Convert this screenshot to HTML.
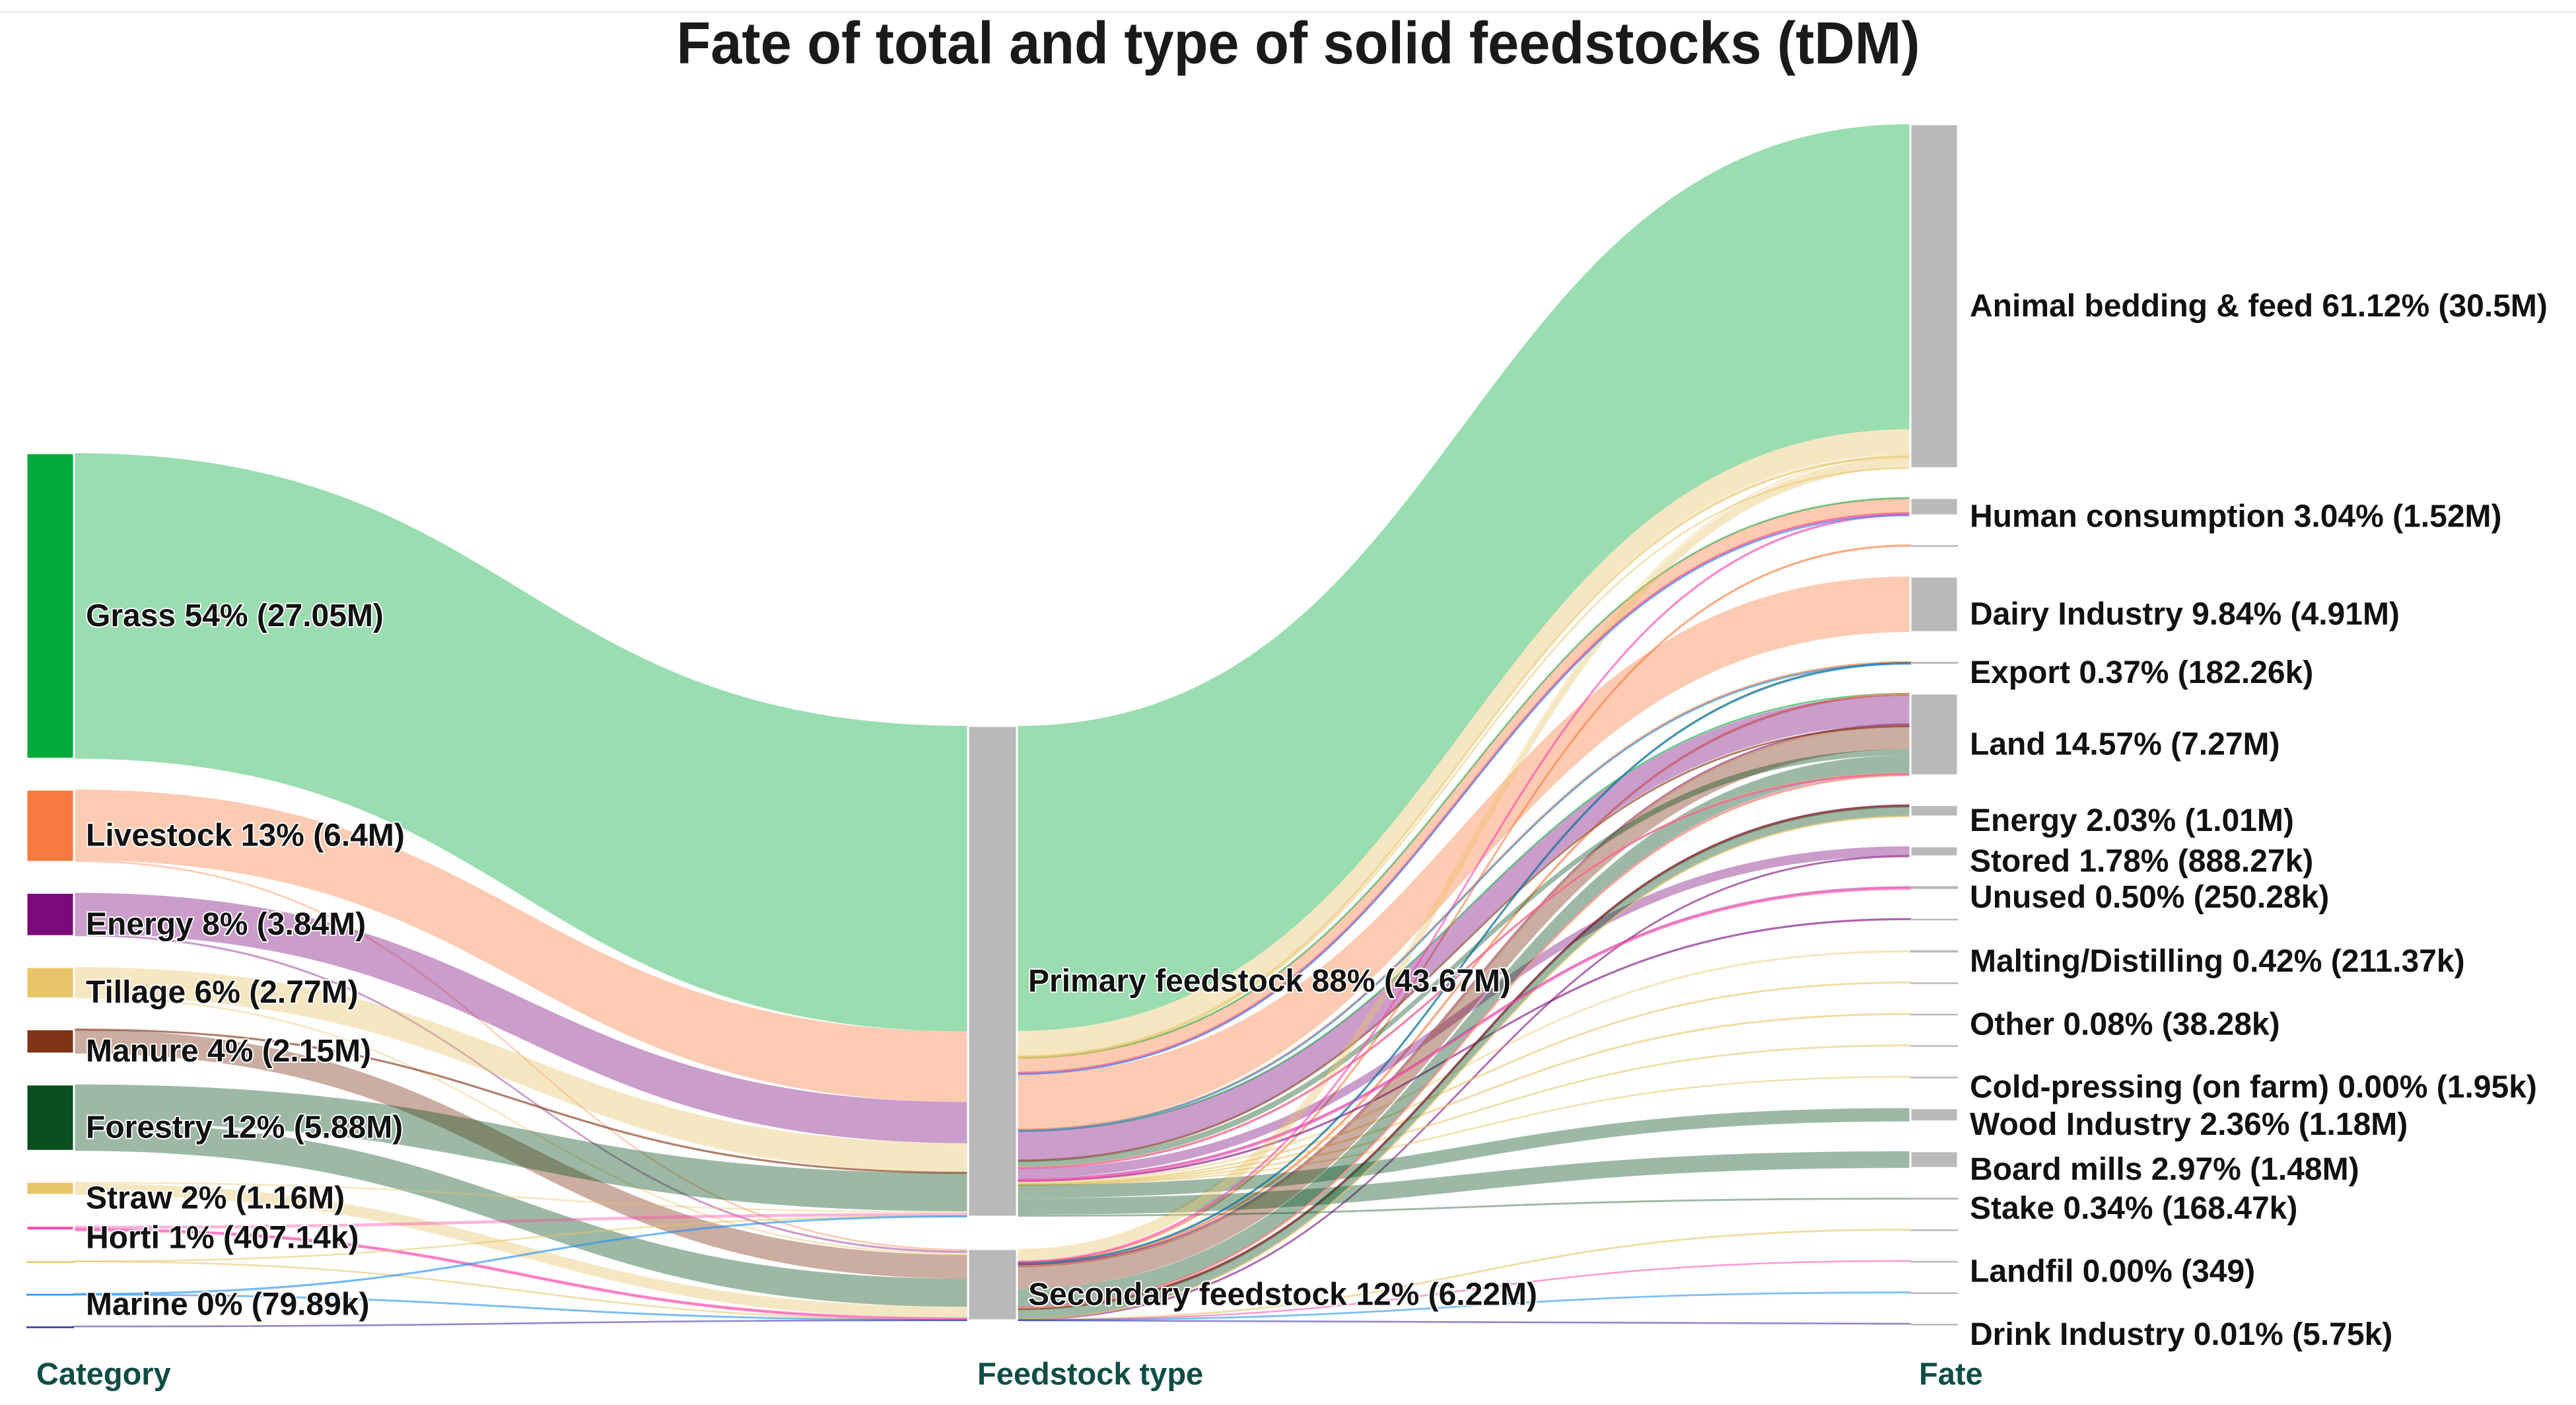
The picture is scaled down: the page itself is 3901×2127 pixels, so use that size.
<!DOCTYPE html>
<html><head><meta charset="utf-8">
<style>
html,body{margin:0;padding:0;background:#fff;}
svg{display:block;}
text{font-family:"Liberation Sans",Arial,sans-serif;}
.lbl{font-weight:bold;font-size:48px;fill:#111;paint-order:stroke;stroke:#fff;stroke-width:4px;stroke-linejoin:round;}
.ax{font-weight:bold;font-size:47px;fill:#0d4d45;}
</style></head>
<body>
<svg id="chart" width="3901" height="2127" viewBox="0 0 3901 2127" xmlns="http://www.w3.org/2000/svg">
<rect x="0" y="0" width="3901" height="2127" fill="#fff"/>
<line x1="0" y1="18" x2="3901" y2="18" stroke="#eeeeee" stroke-width="3"/>
<text x="1966" y="96" text-anchor="middle" textLength="1883" lengthAdjust="spacingAndGlyphs" style="font-family:'Liberation Sans Narrow','Liberation Sans',sans-serif;font-weight:bold;font-size:90px;fill:#1a1a1a">Fate of total and type of solid feedstocks (tDM)</text>
<g id="links"></g>
<g id="nodes"></g>
<g id="labels"></g>
<text class="ax" x="55" y="2096">Category</text>
<text class="ax" x="1480" y="2096">Feedstock type</text>
<text class="ax" x="2906" y="2096">Fate</text>
</svg>
<script>
// ---- data ----
const categories = ['Grass','Livestock','Energy','Tillage','Manure','Forestry','Straw','Horti','Unlabelled A','Marine','Unlabelled B'];
const categoryLabels = ['Grass 54% (27.05M)','Livestock 13% (6.4M)','Energy 8% (3.84M)','Tillage 6% (2.77M)','Manure 4% (2.15M)','Forestry 12% (5.88M)','Straw 2% (1.16M)','Horti 1% (407.14k)','','Marine 0% (79.89k)',''];
const categoryColors = ['#00aa3a','#f97a3e','#7a0a7a','#e8c468','#7f3214','#0a4f1e','#e8c468','#ff44aa','#e8c468','#2090f0','#3030a0'];
const types = ['Primary feedstock','Secondary feedstock'];
const typeLabels = ['Primary feedstock 88% (43.67M)','Secondary feedstock 12% (6.22M)'];
const fates = ['Animal bedding & feed','Human consumption','U1','Dairy Industry','Export','Land','Energy','Stored','Unused','U2','Malting/Distilling','U3','Other','U4','Cold-pressing (on farm)','Wood Industry','Board mills','Stake','U5','Landfil','U6','Drink Industry'];
const fateLabels = ['Animal bedding & feed 61.12% (30.5M)','Human consumption 3.04% (1.52M)','','Dairy Industry 9.84% (4.91M)','Export 0.37% (182.26k)','Land 14.57% (7.27M)','Energy 2.03% (1.01M)','Stored 1.78% (888.27k)','Unused 0.50% (250.28k)','','Malting/Distilling 0.42% (211.37k)','','Other 0.08% (38.28k)','','Cold-pressing (on farm) 0.00% (1.95k)','Wood Industry 2.36% (1.18M)','Board mills 2.97% (1.48M)','Stake 0.34% (168.47k)','','Landfil 0.00% (349)','','Drink Industry 0.01% (5.75k)'];
// flows: category index, type index, fate index, value (M tDM)
const flowCat  = [0,0,0, 1,1,1,1,1, 2,2,2,2,2,2,2, 3,3,3,3,3,3,3,3,3, 4,4,4, 5,5,5,5,5,5,5, 6,6,6,6,6, 7,7,7,7,7,7, 8,8, 9,9,9,9, 10, 0];
const flowType = [0,0,0, 0,0,0,1,1, 0,0,0,0,1,1,1, 0,0,0,0,0,0,0,1,1, 0,1,1, 0,0,0,0,1,1,1, 0,0,1,1,1, 0,0,0,1,1,1, 0,1, 0,0,1,1, 1, 0];
const flowFate = [0,1,5, 1,3,4,5,2, 5,7,8,9,5,7,6, 0,10,11,12,13,14,1,0,5, 5,5,6, 15,16,17,5,5,6,4, 0,5,0,6,18, 1,8,5,1,19,5, 0,5, 4,1,20,4, 21, 0];
const flowVal  = [26.0,0.03,0.02, 1.25,4.91,0.08,0.1,0.06, 2.6,0.85,0.15,0.05,0.12,0.038,0.03, 2.25,0.21,0.03,0.038,0.02,0.002,0.05,0.15,0.02, 0.05,2.0,0.1, 1.18,1.48,0.168,0.55,1.6,0.85,0.05, 0.1,0.05,0.95,0.03,0.03, 0.12,0.1,0.05,0.07,0.0003,0.067, 0.005,0.01, 0.03,0.02,0.02,0.01, 0.006, 1.0];

// ---- layout ----
const K = 17.1, MINH = 2.5;
const colX = [40, 1466, 2893], nodeW = [72, 74, 72];
const colTop = [686, 1099, 188], colGap = [46.8, 49, 45.1];
const NS='http://www.w3.org/2000/svg';
function hOf(v){return Math.max(v*K, MINH);}
function sumBy(arr, idx){return flowVal.reduce((s,v,i)=>s+(arr[i]===idx?v:0),0);}
function layoutCol(n, arr, c){
  const out=[]; let y=colTop[c];
  for(let i=0;i<n;i++){const v=sumBy(arr,i); const h=hOf(v); out.push({y:y,h:h,v:v}); y+=h+colGap[c];}
  return out;
}
const catN = layoutCol(categories.length, flowCat, 0);
const typeN = layoutCol(types.length, flowType, 1);
const fateN = layoutCol(fates.length, flowFate, 2);

const linksG=document.getElementById('links'), nodesG=document.getElementById('nodes'), labelsG=document.getElementById('labels');
function band(x0,y0,w0,x1,y1,w1){
  const xm=(x0+x1)/2;
  return `M${x0},${y0} C${xm},${y0} ${xm},${y1} ${x1},${y1} L${x1},${y1+w1} C${xm},${y1+w1} ${xm},${y0+w0} ${x0},${y0+w0} Z`;
}
function drawLink(x0,y0,w0,x1,y1,w1,color,name){
  const p=document.createElementNS(NS,'path');
  p.setAttribute('d',band(x0,y0,w0,x1,y1,w1));
  p.setAttribute('fill',color); p.setAttribute('fill-opacity','0.4');
  if(w0<2.5){p.setAttribute('stroke',color);p.setAttribute('stroke-opacity','0.55');p.setAttribute('stroke-width','2.5');}
  
  
  linksG.appendChild(p);
}
// left links: aggregated (category,type)
const lv={};
flowVal.forEach((v,i)=>{const k=flowCat[i]+'_'+flowType[i]; lv[k]=(lv[k]||0)+v;});
const leftLinks=Object.keys(lv).map(k=>{const [c,t]=k.split('_').map(Number);return {c:c,t:t,v:lv[k]};});
const catOff=catN.map(n=>n.y), typeInOff=typeN.map(n=>n.y);
leftLinks.slice().sort((a,b)=>a.c-b.c||a.t-b.t).forEach(l=>{
  const w=l.v*K; const sy=catOff[l.c]; catOff[l.c]+=w;
  l.sy=sy; l.w=w;
});
leftLinks.slice().sort((a,b)=>a.t-b.t||a.c-b.c).forEach(l=>{
  l.ty=typeInOff[l.t]; typeInOff[l.t]+=l.w;
});
leftLinks.forEach(l=>{
  drawLink(colX[0]+nodeW[0], l.sy, l.w, colX[1], l.ty, l.w, categoryColors[l.c], 'link-'+categories[l.c].toLowerCase().replace(/ /g,'-')+'-to-'+(l.t?'secondary':'primary'));
});
// right links: per flow coloured by category
const rl=flowVal.map((v,i)=>({i:i,c:flowCat[i],t:flowType[i],f:flowFate[i],w:v*K}));
const typeOutOff=typeN.map(n=>n.y), fateOff=fateN.map(n=>n.y);
rl.slice().sort((a,b)=>a.t-b.t||a.f-b.f||a.c-b.c).forEach(l=>{l.sy=typeOutOff[l.t]; typeOutOff[l.t]+=l.w;});
rl.slice().sort((a,b)=>a.f-b.f||a.c-b.c||a.t-b.t).forEach(l=>{l.ty=fateOff[l.f]; fateOff[l.f]+=l.w;});
rl.forEach(l=>{
  drawLink(colX[1]+nodeW[1], l.sy, l.w, colX[2], l.ty, l.w, categoryColors[l.c], 'link-'+categories[l.c].toLowerCase().replace(/ /g,'-')+'-to-'+fates[l.f].toLowerCase().replace(/[^a-z0-9]+/g,'-'));
});
// nodes + labels
function drawNode(x,n,w,color,name){
  const r=document.createElementNS(NS,'rect');
  r.setAttribute('x',x); r.setAttribute('y',n.y); r.setAttribute('width',w); r.setAttribute('height',n.h);
  r.setAttribute('fill',color);
  if(n.h>6){r.setAttribute('stroke','#fff');r.setAttribute('stroke-width','3');}
  
  
  nodesG.appendChild(r);
}
function drawLabel(x,n,txt,name){
  if(!txt) return;
  const t=document.createElementNS(NS,'text');
  t.setAttribute('x',x); t.setAttribute('y',n.y+n.h/2+15);
  t.setAttribute('dominant-baseline','central');
  t.setAttribute('class','lbl'); t.textContent=txt;
  
  
  labelsG.appendChild(t);
}
catN.forEach((n,i)=>{
  const nm=categories[i].toLowerCase().replace(/ /g,'-');
  drawNode(colX[0],n,nodeW[0],categoryColors[i],'node-'+nm);
  drawLabel(130,n,categoryLabels[i],'label-'+nm);
});
typeN.forEach((n,i)=>{
  const nm=i?'secondary':'primary';
  drawNode(colX[1],n,nodeW[1],'#b9b9b9','node-'+nm);
  drawLabel(1557,n,typeLabels[i],'label-'+nm);
});
fateN.forEach((n,i)=>{
  const nm=fates[i].toLowerCase().replace(/[^a-z0-9]+/g,'-');
  drawNode(colX[2],n,nodeW[2],'#b9b9b9','node-fate-'+nm);
  drawLabel(2983,n,fateLabels[i],'label-fate-'+nm);
});
</script>
</body></html>
